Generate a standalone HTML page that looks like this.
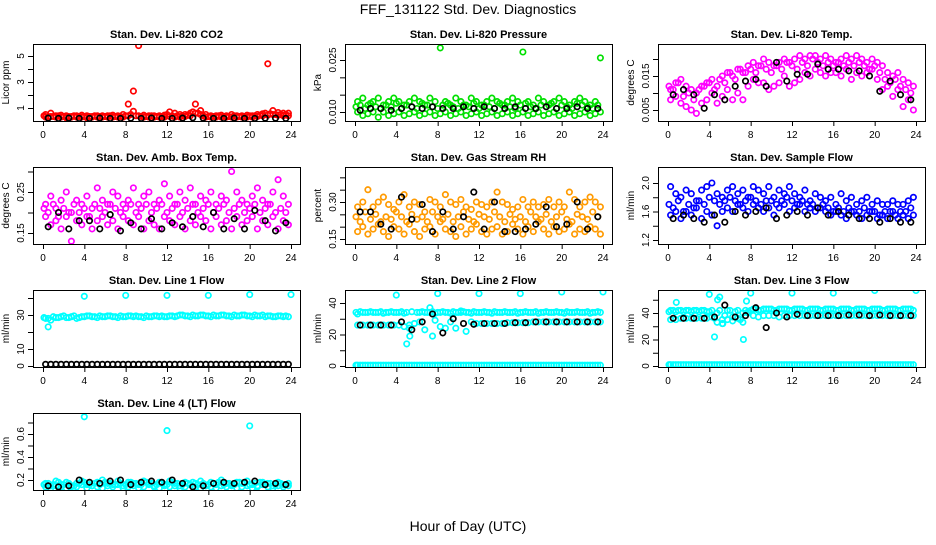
<!DOCTYPE html>
<html><head><meta charset="utf-8">
<style>
html,body{margin:0;padding:0;background:#fff;}
svg text{font-family:"Liberation Sans",sans-serif;}
</style></head>
<body>
<svg id="chart" width="936" height="540" viewBox="0 0 936 540" xmlns="http://www.w3.org/2000/svg">
<rect width="936" height="540" fill="#fff"/>
<text x="468" y="14" font-size="14" text-anchor="middle">FEF_131122  Std. Dev. Diagnostics</text>
<text x="468" y="531" font-size="14" text-anchor="middle">Hour of Day (UTC)</text>
</svg>
<script>
const H=[0.25,0.75,1.25,1.75,2.25,2.75,3.25,3.75,4.25,4.75,5.25,5.75,6.25,6.75,7.25,7.75,8.25,8.75,9.25,9.75,10.25,10.75,11.25,11.75,12.25,12.75,13.25,13.75,14.25,14.75,15.25,15.75,16.25,16.75,17.25,17.75,18.25,18.75,19.25,19.75,20.25,20.75,21.25,21.75,22.25,22.75,23.25,23.75];
const H2=[0.1,0.5,1,1.5,2,2.5,3,3.5,4,4.5,5,5.5,6,6.5,7,7.5,8,8.5,9,9.5,10,10.5,11,11.5,12,12.5,13,13.5,14,14.5,15,15.5,16,16.5,17,17.5,18,18.5,19,19.5,20,20.5,21,21.5,22,22.5,23,23.5];
const HB=[0.5,1.5,2.5,3.5,4.5,5.5,6.5,7.5,8.5,9.5,10.5,11.5,12.5,13.5,14.5,15.5,16.5,17.5,18.5,19.5,20.5,21.5,22.5,23.5];
const xTicks=[0,4,8,12,16,20,24];

const co2A=[0.5,0.6,0.4,0.45,0.4,0.35,0.4,0.45,0.4,0.35,0.4,0.4,0.4,0.45,0.4,0.5,1.3,2.3,5.8,0.45,0.4,0.4,0.4,0.45,0.7,0.6,0.5,0.5,0.6,1.3,0.8,0.5,0.4,0.4,0.45,0.4,0.5,0.4,0.4,0.45,0.4,0.5,0.55,4.4,0.8,0.65,0.6,0.6];
const co2B=[0.3,0.35,0.3,0.3,0.25,0.3,0.3,0.3,0.25,0.3,0.3,0.3,0.3,0.3,0.3,0.3,0.4,0.75,0.4,0.3,0.3,0.3,0.3,0.3,0.35,0.3,0.3,0.35,0.4,0.6,0.5,0.3,0.3,0.3,0.3,0.3,0.3,0.3,0.3,0.3,0.3,0.35,0.4,0.45,0.5,0.45,0.4,0.4];
const co2C=[0.4,0.35,0.35,0.4,0.35,0.35,0.4,0.35,0.35,0.35,0.4,0.35,0.35,0.4,0.35,0.35,0.4,0.5,0.4,0.35,0.35,0.4,0.35,0.35,0.5,0.4,0.4,0.4,0.45,0.7,0.6,0.4,0.35,0.35,0.4,0.35,0.35,0.4,0.35,0.35,0.4,0.4,0.45,0.6,0.55,0.5,0.5,0.5];
const co2K=[0.22,0.2,0.22,0.2,0.2,0.22,0.2,0.2,0.22,0.2,0.22,0.2,0.2,0.22,0.25,0.22,0.2,0.2,0.22,0.2,0.2,0.22,0.22,0.2];

const presA=[0.013,0.014,0.012,0.013,0.014,0.012,0.013,0.014,0.013,0.012,0.013,0.014,0.013,0.012,0.014,0.013,0.0285,0.013,0.012,0.014,0.013,0.012,0.014,0.013,0.012,0.013,0.014,0.013,0.012,0.013,0.014,0.013,0.0273,0.013,0.012,0.014,0.013,0.012,0.013,0.014,0.013,0.012,0.013,0.014,0.013,0.012,0.013,0.0256];
const presB=[0.010,0.009,0.0095,0.010,0.0085,0.010,0.009,0.0095,0.010,0.009,0.0095,0.010,0.009,0.0095,0.010,0.009,0.0095,0.010,0.009,0.0095,0.010,0.009,0.0095,0.010,0.009,0.0095,0.010,0.009,0.0095,0.010,0.009,0.0095,0.010,0.009,0.0095,0.010,0.009,0.0095,0.010,0.009,0.0095,0.010,0.009,0.0095,0.010,0.009,0.0095,0.010];
const presC=[0.0115,0.012,0.011,0.0125,0.0115,0.011,0.012,0.0115,0.0125,0.011,0.012,0.0115,0.011,0.0125,0.012,0.0115,0.011,0.012,0.0125,0.0115,0.011,0.012,0.0115,0.0125,0.011,0.012,0.0115,0.011,0.0125,0.012,0.0115,0.011,0.012,0.0125,0.0115,0.011,0.012,0.0115,0.0125,0.011,0.012,0.0115,0.011,0.0125,0.012,0.0115,0.011,0.012];
const presK=[0.0105,0.011,0.011,0.0105,0.011,0.0115,0.011,0.0115,0.011,0.011,0.0115,0.011,0.0115,0.011,0.011,0.0115,0.011,0.011,0.0115,0.011,0.011,0.0115,0.011,0.011];

const tempA=[0.011,0.013,0.014,0.012,0.011,0.010,0.012,0.013,0.014,0.012,0.015,0.016,0.015,0.017,0.016,0.018,0.019,0.018,0.020,0.019,0.018,0.019,0.020,0.019,0.020,0.021,0.020,0.021,0.021,0.020,0.021,0.020,0.019,0.020,0.021,0.020,0.021,0.020,0.019,0.020,0.019,0.018,0.016,0.015,0.016,0.014,0.013,0.012];
const tempB=[0.008,0.009,0.007,0.006,0.005,0.004,0.007,0.008,0.010,0.007,0.009,0.011,0.008,0.010,0.008,0.012,0.014,0.013,0.013,0.011,0.012,0.013,0.015,0.012,0.013,0.014,0.016,0.015,0.017,0.016,0.015,0.016,0.016,0.015,0.017,0.014,0.016,0.015,0.016,0.017,0.014,0.011,0.012,0.009,0.011,0.006,0.008,0.005];
const tempC=[0.012,0.011,0.013,0.009,0.010,0.008,0.011,0.012,0.013,0.011,0.014,0.013,0.016,0.014,0.017,0.016,0.017,0.016,0.018,0.017,0.016,0.018,0.017,0.019,0.018,0.017,0.019,0.018,0.020,0.019,0.018,0.019,0.018,0.019,0.018,0.019,0.018,0.019,0.018,0.017,0.018,0.016,0.014,0.013,0.014,0.012,0.011,0.010];
const tempK=[0.0095,0.011,0.0095,0.0055,0.0095,0.008,0.012,0.0135,0.014,0.012,0.019,0.0135,0.0155,0.0155,0.0185,0.017,0.017,0.0165,0.0165,0.015,0.0105,0.0135,0.0095,0.008];

const ambA=[0.22,0.24,0.21,0.23,0.25,0.20,0.23,0.22,0.24,0.21,0.26,0.23,0.22,0.25,0.24,0.22,0.23,0.26,0.22,0.24,0.25,0.22,0.23,0.27,0.24,0.22,0.25,0.23,0.26,0.22,0.24,0.23,0.25,0.22,0.24,0.23,0.30,0.25,0.23,0.22,0.24,0.26,0.23,0.22,0.25,0.28,0.24,0.22];
const ambB=[0.19,0.17,0.18,0.16,0.19,0.13,0.18,0.17,0.19,0.16,0.18,0.19,0.17,0.18,0.16,0.19,0.18,0.17,0.19,0.16,0.18,0.17,0.16,0.19,0.18,0.17,0.19,0.16,0.18,0.17,0.19,0.18,0.16,0.19,0.17,0.18,0.16,0.19,0.17,0.18,0.19,0.16,0.18,0.17,0.19,0.16,0.18,0.17];
const ambC=[0.21,0.20,0.22,0.19,0.21,0.20,0.22,0.20,0.21,0.19,0.22,0.21,0.20,0.22,0.21,0.20,0.21,0.22,0.20,0.21,0.22,0.20,0.21,0.22,0.20,0.21,0.22,0.20,0.21,0.22,0.20,0.21,0.22,0.20,0.21,0.22,0.20,0.21,0.22,0.20,0.21,0.22,0.20,0.21,0.22,0.20,0.21,0.20];
const ambK=[0.165,0.2,0.16,0.18,0.18,0.16,0.195,0.155,0.175,0.16,0.185,0.16,0.175,0.165,0.19,0.165,0.2,0.16,0.185,0.16,0.205,0.18,0.155,0.175];

const rhA=[0.28,0.30,0.35,0.28,0.30,0.32,0.29,0.27,0.30,0.33,0.28,0.30,0.29,0.26,0.31,0.30,0.28,0.33,0.30,0.29,0.31,0.28,0.27,0.30,0.29,0.28,0.30,0.34,0.30,0.29,0.27,0.28,0.31,0.28,0.30,0.28,0.29,0.31,0.28,0.30,0.28,0.34,0.31,0.28,0.30,0.32,0.30,0.28];
const rhB=[0.18,0.20,0.17,0.19,0.21,0.18,0.16,0.20,0.19,0.17,0.21,0.18,0.16,0.19,0.20,0.17,0.22,0.19,0.18,0.16,0.20,0.17,0.19,0.21,0.18,0.17,0.19,0.20,0.17,0.18,0.21,0.19,0.17,0.20,0.18,0.22,0.19,0.17,0.20,0.18,0.19,0.21,0.17,0.19,0.18,0.20,0.19,0.17];
const rhC=[0.24,0.22,0.26,0.23,0.25,0.22,0.24,0.23,0.26,0.24,0.22,0.25,0.23,0.24,0.22,0.26,0.24,0.23,0.25,0.22,0.24,0.26,0.23,0.22,0.25,0.24,0.23,0.26,0.24,0.22,0.25,0.23,0.24,0.22,0.26,0.24,0.23,0.25,0.22,0.24,0.26,0.23,0.22,0.25,0.24,0.23,0.26,0.24];
const rhK=[0.26,0.26,0.21,0.19,0.32,0.23,0.29,0.18,0.26,0.19,0.24,0.34,0.19,0.30,0.18,0.18,0.19,0.21,0.28,0.20,0.21,0.30,0.19,0.24];

const sfA=[1.95,1.85,1.8,1.9,1.85,1.75,1.9,1.95,2.0,1.85,1.8,1.9,1.95,1.85,1.9,1.8,1.95,1.9,1.85,1.95,1.8,1.9,1.85,1.95,1.85,1.8,1.9,1.75,1.85,1.8,1.75,1.8,1.7,1.85,1.75,1.8,1.7,1.75,1.8,1.7,1.75,1.7,1.7,1.75,1.7,1.7,1.75,1.8];
const sfB=[1.55,1.6,1.5,1.6,1.55,1.65,1.5,1.6,1.55,1.4,1.6,1.65,1.6,1.7,1.65,1.6,1.7,1.65,1.6,1.65,1.55,1.65,1.7,1.6,1.65,1.7,1.6,1.65,1.6,1.65,1.6,1.55,1.6,1.55,1.5,1.6,1.55,1.5,1.55,1.6,1.5,1.55,1.5,1.6,1.5,1.55,1.5,1.55];
const sfC=[1.7,1.65,1.75,1.6,1.7,1.65,1.75,1.7,1.8,1.75,1.7,1.75,1.8,1.75,1.7,1.75,1.8,1.75,1.7,1.75,1.75,1.7,1.75,1.8,1.75,1.7,1.75,1.7,1.7,1.65,1.7,1.65,1.6,1.65,1.6,1.65,1.6,1.6,1.65,1.6,1.6,1.55,1.6,1.6,1.55,1.6,1.6,1.65];
const sfK=[1.5,1.55,1.5,1.45,1.55,1.45,1.6,1.55,1.6,1.65,1.5,1.55,1.6,1.55,1.65,1.55,1.6,1.55,1.5,1.5,1.45,1.5,1.45,1.45];

const l1A=[28,27,28.5,29,28.5,29,28,29,29.5,29,28.5,29,29.5,29,28.5,29,29.5,29,29,28.5,29,29.5,29,29,29.5,29,30,29.5,29,29.5,30,29.5,29,29.5,30,29.5,29,29.5,30,29.5,29,29.5,30,29.5,29,29.5,29,29];
const l1B=[28.5,28,29,28.5,29.5,28.5,29.5,28.5,29,29.5,29,29.5,29,29.5,29,29.5,29,29.5,29.5,29,29.5,29,29.5,29.5,29,29.5,29.5,30,29.5,30,29.5,30,29.5,30,29.5,30,29.5,30,29.5,30,29.5,30,29.5,29,29.5,29,29.5,29.5];
const l1OutH=[0.5,4,8,12,16,20,24];
const l1Out=[23,41,41.5,41.5,41.5,42,42];
const l1K=[1,1,1,1,1,1,1,1,1,1,1,1,1,1,1,1,1,1,1,1,1,1,1,1,1,1,1,1,1,1,1,1,1,1,1,1,1,1,1,1,1,1,1,1,1,1,1,1];

const l2Top=[33,34,34,34,34,33.5,34,34,34,33.5,26,27,34,34,34,33.5,34,34,33.5,34,34,34,33.5,34,34,34,33.5,34,34,34,34,33.5,34,34,34,33.5,34,34,34,34,33.5,34,34,34,34,33.5,34,34];
const l2TopB=[34,34.5,34,34.5,34,34.5,34,34.5,34,34.5,34,34.5,34,34.5,34,34.5,34,34.5,34,34.5,34,34.5,34,34.5,34,34.5,34,34.5,34,34.5,34,34.5,34,34.5,34,34.5,34,34.5,34,34.5,34,34.5,34,34.5,34,34.5,34,34.5];
const l2Mid=[26,26,26,26,26,26,26,26,26,25,24,27,28,23,37,29,25,24,28,24,35,22,28,27,27,27,27,27,27,27.5,27.5,27.5,27.5,27.5,28,28,28,28,28,28,28,28,28,28,28,28,28,28];
const l2Low=[0.5,0.5,0.5,0.5,0.5,0.5,0.5,0.5,0.5,0.5,0.5,0.5,0.5,0.5,0.5,0.5,0.5,0.5,0.5,0.5,0.5,0.5,0.5,0.5,0.5,0.5,0.5,0.5,0.5,0.5,0.5,0.5,0.5,0.5,0.5,0.5,0.5,0.5,0.5,0.5,0.5,0.5,0.5,0.5,0.5,0.5,0.5,0.5];
const l2OutH=[4,5,5.3,7.5,8,12,16,20,24];
const l2Out=[45,14,19,19,46,46,46,47,47];
const l2K=[26,26,26,26,28,23,28,33,21,30,27,26.5,27,27,27,27.5,27.5,28,28,28,28,28,28,28];

const l3Top=[42,41,42,42,41,42,42,41,42,40,35,42,37,42,40,41,43,42,43,43,42,43,43,42,43,43,42,43,43,42,43,43,42,43,43,42,43,43,42,43,43,42,43,43,42,43,43,42];
const l3TopB=[41,42,42,41,42,42,41,42,41,36,42,38,42,41,35,42,42,43,42,43,43,42,43,43,42,43,43,42,43,43,42,43,43,42,43,43,42,43,43,42,43,43,42,43,43,42,43,43];
const l3Mid=[35,35,36,36,36,36,36,36,37,33,32,35,34,36,33,40,38,37,38,38,38,37,38,38,38,38,38,38,38,38,38,38,38,38,38,38,38,38,38,38,38,38,38,38,38,38,38,38];
const l3Low=[1,1,1,1,1,1,1,1,1,1,1,1,1,1,1,1,1,1,1,1,1,1,1,1,1,1,1,1,1,1,1,1,1,1,1,1,1,1,1,1,1,1,1,1,1,1,1,1];
const l3OutH=[0.8,4,4.5,4.8,5,5.3,7.3,7.6,8,12,16,20,24];
const l3Out=[48,54,22,50,52,32,20,49,55,55,55,57,57];
const l3K=[36,36,36,36,37,46,37,38,44,29,40,37,39,38,38,38,38,38.5,38.5,38,38.5,38,38,38];

const l4A=[0.17,0.15,0.19,0.16,0.18,0.14,0.17,0.19,0.16,0.15,0.18,0.2,0.17,0.16,0.19,0.15,0.18,0.17,0.16,0.19,0.17,0.15,0.18,0.16,0.19,0.17,0.15,0.18,0.16,0.17,0.19,0.15,0.18,0.16,0.2,0.17,0.15,0.18,0.17,0.19,0.16,0.15,0.18,0.17,0.15,0.18,0.16,0.17];
const l4B=[0.14,0.13,0.15,0.14,0.13,0.15,0.14,0.16,0.13,0.15,0.14,0.13,0.15,0.14,0.16,0.13,0.14,0.15,0.13,0.14,0.16,0.14,0.13,0.15,0.14,0.15,0.13,0.14,0.16,0.14,0.13,0.15,0.14,0.13,0.15,0.14,0.16,0.13,0.14,0.15,0.13,0.14,0.16,0.14,0.13,0.15,0.14,0.15];
const l4C=[0.16,0.17,0.16,0.18,0.16,0.17,0.15,0.17,0.18,0.16,0.17,0.16,0.18,0.17,0.16,0.17,0.16,0.18,0.17,0.16,0.18,0.17,0.16,0.17,0.16,0.18,0.17,0.16,0.17,0.18,0.16,0.17,0.16,0.17,0.18,0.16,0.17,0.16,0.18,0.17,0.16,0.17,0.18,0.16,0.17,0.16,0.17,0.16];
const l4OutH=[4,12,20];
const l4Out=[0.75,0.63,0.67];
const l4K=[0.15,0.14,0.15,0.2,0.18,0.17,0.19,0.2,0.16,0.18,0.19,0.18,0.2,0.17,0.14,0.15,0.17,0.18,0.17,0.18,0.19,0.16,0.17,0.16];

const NS="http://www.w3.org/2000/svg";
const svg=document.getElementById('chart');
function mk(tag,attrs,parent){const e=document.createElementNS(NS,tag);for(const k in attrs)e.setAttribute(k,attrs[k]);(parent||svg).appendChild(e);return e;}

const panels=[
 {name:'co2',title:'Stan. Dev. Li-820 CO2',ylab:'Licor ppm',col:0,row:0,a:[1,108,5,56],ticks:[1,2,3,4,5],labels:[1,3,5],fmt:v=>String(v),
  series:[[H,co2A,'#ff0000'],[H,co2B,'#ff0000'],[H2,co2C,'#ff0000'],[HB,co2K,'#000']]},
 {name:'pressure',title:'Stan. Dev. Li-820 Pressure',ylab:'kPa',col:1,row:0,a:[0.010,112,0.025,60],ticks:[0.010,0.015,0.020,0.025],labels:[0.010,0.025],fmt:v=>v.toFixed(3),
  series:[[H,presA,'#00e000'],[H,presB,'#00e000'],[H2,presC,'#00e000'],[HB,presK,'#000']]},
 {name:'temp',title:'Stan. Dev. Li-820 Temp.',ylab:'degrees C',col:2,row:0,a:[0.005,110,0.015,76],ticks:[0.005,0.010,0.015,0.020],labels:[0.005,0.015],fmt:v=>v.toFixed(3),
  series:[[H,tempA,'#ff00ff'],[H,tempB,'#ff00ff'],[H2,tempC,'#ff00ff'],[HB,tempK,'#000']]},
 {name:'amb-box-temp',title:'Stan. Dev. Amb. Box Temp.',ylab:'degrees C',col:0,row:1,a:[0.15,233,0.25,192],ticks:[0.15,0.20,0.25,0.30],labels:[0.15,0.25],fmt:v=>v.toFixed(2),
  series:[[H,ambA,'#ff00ff'],[H,ambB,'#ff00ff'],[H2,ambC,'#ff00ff'],[HB,ambK,'#000']]},
 {name:'gas-rh',title:'Stan. Dev. Gas Stream RH',ylab:'percent',col:1,row:1,a:[0.15,239,0.30,202],ticks:[0.15,0.20,0.25,0.30,0.35,0.40],labels:[0.15,0.30],fmt:v=>v.toFixed(2),
  series:[[H,rhA,'#ff9a00'],[H,rhB,'#ff9a00'],[H2,rhC,'#ff9a00'],[HB,rhK,'#000']]},
 {name:'sample-flow',title:'Stan. Dev. Sample Flow',ylab:'ml/min',col:2,row:1,a:[1.2,240,2.0,183],ticks:[1.2,1.4,1.6,1.8,2.0],labels:[1.2,1.6,2.0],fmt:v=>v.toFixed(1),
  series:[[H,sfA,'#0000ff'],[H,sfB,'#0000ff'],[H2,sfC,'#0000ff'],[HB,sfK,'#000']]},
 {name:'line1-flow',title:'Stan. Dev. Line 1 Flow',ylab:'ml/min',col:0,row:2,a:[0,366,30,315],ticks:[0,10,20,30,40],labels:[0,10,30],fmt:v=>String(v),
  series:[[H,l1A,'#00ffff'],[H2,l1B,'#00ffff'],[l1OutH,l1Out,'#00ffff'],[H,l1K,'#000']]},
 {name:'line2-flow',title:'Stan. Dev. Line 2 Flow',ylab:'ml/min',col:1,row:2,a:[0,366,40,303],ticks:[0,10,20,30,40],labels:[0,20,40],fmt:v=>String(v),
  series:[[H,l2Top,'#00ffff'],[H2,l2TopB,'#00ffff'],[H,l2Mid,'#00ffff'],[H,l2Low,'#00ffff'],[H2,l2Low,'#00ffff'],[l2OutH,l2Out,'#00ffff'],[HB,l2K,'#000']]},
 {name:'line3-flow',title:'Stan. Dev. Line 3 Flow',ylab:'ml/min',col:2,row:2,a:[0,366,40,313],ticks:[0,10,20,30,40,50],labels:[0,20,40],fmt:v=>String(v),
  series:[[H,l3Top,'#00ffff'],[H2,l3TopB,'#00ffff'],[H,l3Mid,'#00ffff'],[H,l3Low,'#00ffff'],[H2,l3Low,'#00ffff'],[l3OutH,l3Out,'#00ffff'],[HB,l3K,'#000']]},
 {name:'line4-flow',title:'Stan. Dev. Line 4 (LT) Flow',ylab:'ml/min',col:0,row:3,a:[0.2,480,0.6,434],ticks:[0.2,0.3,0.4,0.5,0.6,0.7],labels:[0.2,0.4,0.6],fmt:v=>v.toFixed(1),
  series:[[H,l4A,'#00ffff'],[H,l4B,'#00ffff'],[H2,l4C,'#00ffff'],[l4OutH,l4Out,'#00ffff'],[HB,l4K,'#000']]}
];
const colL=[33,345,658];

panels.forEach(p=>{
  const L=colL[p.col], W=267, T=44+123*p.row, B=T+77;
  const xs=h=>L+10+h*(248/24);
  const ys=v=>p.a[1]+(v-p.a[0])*(p.a[3]-p.a[1])/(p.a[2]-p.a[0]);
  const g=mk('g',{});
  
  
  const t=mk('text',{x:L+W/2,y:T-6,'font-size':11,'font-weight':'bold','text-anchor':'middle'},g);
  t.textContent=p.title;
  
  
  const defs=mk('clipPath',{id:'c-'+p.name},g);
  mk('rect',{x:L,y:T,width:W,height:B-T},defs);
  const pts=mk('g',{'clip-path':'url(#c-'+p.name+')'},g);
  
  
  p.series.forEach(s=>{
    const hx=s[0], vy=s[1];
    for(let i=0;i<vy.length;i++){
      const c=mk('circle',{cx:xs(hx[i]).toFixed(1),cy:ys(vy[i]).toFixed(1),r:2.7,fill:'none',stroke:s[2],'stroke-width':1.7},pts);
      
      
    }
  });
  const box=mk('rect',{x:L+0.5,y:T+0.5,width:W,height:B-T,fill:'none',stroke:'#000','stroke-width':1},g);
  
  
  const xa=mk('g',{},g);
  
  
  mk('line',{x1:xs(0),x2:xs(24),y1:B+0.5,y2:B+0.5,stroke:'#000'},xa);
  xTicks.forEach(v=>{
    mk('line',{x1:xs(v)+0.5,x2:xs(v)+0.5,y1:B,y2:B+5,stroke:'#000'},xa);
    const tl=mk('text',{x:xs(v),y:B+17,'font-size':10,'text-anchor':'middle'},xa);
    tl.textContent=v;
    
    
  });
  const ya=mk('g',{},g);
  
  
  p.ticks.forEach(v=>{
    const y=ys(v);
    if(y<T-1||y>B+1)return;
    mk('line',{x1:L-5,x2:L,y1:y+0.5,y2:y+0.5,stroke:'#000'},ya);
  });
  p.labels.forEach(v=>{
    const y=ys(v);
    const tl=mk('text',{x:L-9,y:y,'font-size':10,'text-anchor':'middle',transform:'rotate(-90 '+(L-9)+' '+y+')'},ya);
    tl.textContent=p.fmt(v);
    
    
  });
  const yl=mk('text',{x:L-24,y:(T+B)/2,'font-size':10,'text-anchor':'middle',transform:'rotate(-90 '+(L-24)+' '+((T+B)/2)+')'},g);
  yl.textContent=p.ylab;
  
  
});
</script>
</body></html>
